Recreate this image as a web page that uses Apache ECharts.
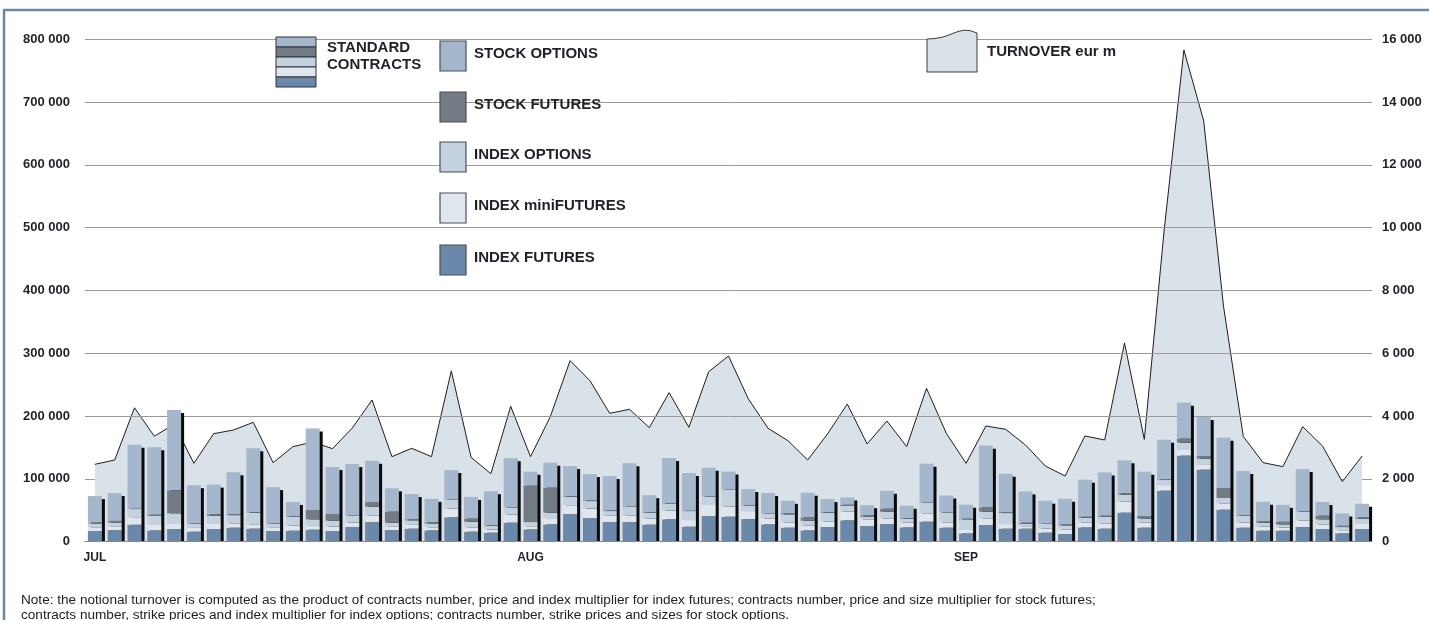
<!DOCTYPE html>
<html lang="en" style="height: 100%">
<head>
  <meta charset="utf-8">
</head>
<body style="height: 100%; margin: 0">
  <div id="container" style="width: 1429px; height: 620px"></div>

  <script type="text/javascript" src="https://cdn.jsdelivr.net/npm/echarts@6/dist/echarts.min.js"></script>
  <script type="text/javascript">
    // trading days per month
    var months = ['JUL', 'AUG', 'SEP'];
    var tradingDays = [22, 22, 21];

    // standard contracts, one value per trading day
    var indexFutures = [17000, 18600, 27000, 18000, 20200, 15900, 20200, 22300, 20700, 17000, 17500, 19100, 17000, 23400, 31300, 18600, 20700,
      18000, 38800, 15900, 14300, 30300, 19600, 27600, 44100, 37700, 31300, 31300, 27100, 35600, 23900, 40900, 39800,
      36100, 27600, 22300, 18000, 23400, 34000, 25000, 28100, 22800, 31900, 22300, 13300, 26600, 20700, 20700, 14300, 12200,
      22800, 20700, 46200, 22300, 81200, 137000, 114700, 51000, 22300, 17500, 17500, 23400, 20200, 13300, 20200];
    var indexMiniFutures = [6000, 6000, 12000, 10000, 8000, 6000, 8000, 7000, 7000, 5000, 8000, 6000, 7000, 7000, 10000, 5000, 6000,
      5000, 14000, 7000, 5000, 13000, 5000, 10000, 14000, 15000, 10000, 10000, 10000, 14000, 10600, 17500, 15900,
      12700, 9600, 8500, 7400, 9000, 13800, 10600, 9000, 7400, 13300, 8500, 5300, 10600, 7400, 4000, 6400, 7400,
      7400, 8500, 17500, 8000, 9000, 9000, 7500, 10100, 8000, 6400, 5000, 10100, 7400, 5000, 8000];
    var indexOptions = [6000, 6000, 13000, 13000, 17000, 7000, 13000, 13000, 18500, 7000, 14000, 10500, 9500, 11600, 14400, 6700, 7300,
      6000, 13600, 9000, 6000, 11200, 6700, 8600, 13600, 12000, 7500, 14000, 9000, 11000, 14300, 13300, 27600,
      8500, 8000, 12700, 8000, 13800, 9000, 4200, 10600, 6400, 17500, 15400, 17000, 10600, 17500, 4000, 8500, 6400,
      8000, 10600, 11200, 6400, 8000, 11700, 10000, 8500, 10600, 6400, 5000, 14300, 8000, 5000, 8500];
    var stockFutures = [1500, 2500, 500, 2000, 36600, 500, 2500, 1500, 500, 500, 1000, 14900, 10600, 500, 7400, 17500, 1600,
      2000, 500, 4800, 1000, 300, 57900, 39800, 1000, 1000, 1000, 500, 1000, 500, 500, 300, 300,
      500, 500, 2000, 5300, 1000, 2000, 2000, 4800, 1000, 500, 300, 1000, 6900, 1500, 1500, 500, 1500,
      1500, 1500, 2000, 4200, 1000, 6400, 4200, 15900, 1000, 2500, 4200, 500, 5800, 2000, 2000];
    var stockOptions = [42200, 44400, 102000, 107400, 127900, 60600, 47200, 66900, 102000, 57400, 22800, 129600, 74900, 81200, 65800, 37200, 40300,
      37200, 47200, 34600, 54100, 78100, 22300, 39800, 47800, 42000, 54700, 69100, 27000, 72200, 60000, 45700, 28100,
      26100, 31900, 19600, 39300, 20700, 11700, 16400, 28600, 19600, 61000, 27100, 22300, 98200, 61000, 49900, 35600, 40900,
      59000, 69000, 52600, 70600, 63200, 57300, 62100, 80200, 70600, 30800, 27000, 67400, 21800, 19600, 21700];

    // notional turnover, eur m
    var turnover = [2465, 2602, 4265, 3360, 3740, 2497, 3440, 3558, 3802, 2517, 3026, 3175, 2962, 3621, 4513, 2708, 2974,
      2708, 5440, 2687, 2165, 4312, 2708, 3983, 5767, 5129, 4089, 4216, 3632, 4747, 3643, 5416, 5915,
      4550, 3611, 3218, 2602, 3430, 4386, 3112, 3844, 3027, 4885, 3452, 2496, 3685, 3579, 3080, 2411, 2092,
      3367, 3239, 6330, 3260, 9900, 15660, 13400, 7500, 3350, 2517, 2390, 3664, 3048, 1912, 2729];

    var noteLines = [
      'Note: the notional turnover is computed as the product of contracts number, price and index multiplier for index futures; contracts number, price and size multiplier for stock futures;',
      'contracts number, strike prices and index multiplier for index options; contracts number, strike prices and sizes for stock options.'
    ];

    var colors = {
      indexFutures: '#6a88aa',
      miniFutures: '#e0e6ed',
      indexOptions: '#c4d1de',
      stockFutures: '#737b84',
      stockOptions: '#a5b7cc',
      area: '#d9e1e9',
      frame: '#6a89a9'
    };

    var days = [];
    months.forEach(function (m, i) {
      for (var d = 1; d <= tradingDays[i]; d++) days.push(m + '-' + d);
    });
    var totals = days.map(function (d, i) {
      return [i, indexFutures[i] + indexMiniFutures[i] + indexOptions[i] + stockFutures[i] + stockOptions[i]];
    });

    function isMonthStart(index, value) {
      return /-1$/.test(value);
    }
    function spaced(v) {
      return String(v).replace(/\B(?=(\d{3})+(?!\d))/g, ' ');
    }

    var FONT = '"Liberation Sans", Arial, sans-serif';
    var BAR_W = 14;

    function barSeries(name, data, color) {
      return {
        name: name,
        type: 'bar',
        stack: 'contracts',
        barWidth: BAR_W,
        z: 4,
        data: data,
        itemStyle: { color: color },
        emphasis: { disabled: true }
      };
    }

    function legendBox(y, color, label) {
      return [
        { type: 'rect', shape: { x: 440, y: y, width: 26, height: 30 },
          style: { fill: color, stroke: '#4a4f55', lineWidth: 1.2 }, z: 10 },
        { type: 'text', style: { text: label, x: 474, y: y + 13, font: 'bold 15px ' + FONT, fill: '#1e2228', verticalAlign: 'middle' }, z: 10 }
      ];
    }

    var stripeColors = [colors.stockOptions, colors.stockFutures, colors.indexOptions, colors.miniFutures, colors.indexFutures];
    var graphics = [
      { type: 'line', shape: { x1: 3, y1: 10, x2: 1429, y2: 10 }, style: { stroke: colors.frame, lineWidth: 2.5 }, z: 10 },
      { type: 'line', shape: { x1: 4, y1: 10, x2: 4, y2: 620 }, style: { stroke: colors.frame, lineWidth: 2.5 }, z: 10 },
      { type: 'text', style: { text: 'STANDARD\nCONTRACTS', x: 327, y: 39, font: 'bold 15px ' + FONT, fill: '#1e2228', lineHeight: 17 }, z: 10 },
      { type: 'polygon',
        shape: { points: [[927, 72], [927, 39], [935, 38.5], [943, 37], [950, 34.5], [958, 31.5], [964, 30.2], [970, 30.6], [977, 33], [977, 72]] },
        style: { fill: colors.area, stroke: '#3a3e44', lineWidth: 1 }, z: 10 },
      { type: 'text', style: { text: 'TURNOVER eur m', x: 987, y: 52, font: 'bold 15px ' + FONT, fill: '#1e2228', verticalAlign: 'middle' }, z: 10 },
      { type: 'text', x: 21, y: 593, scaleX: 1.087,
        style: { text: noteLines.join('\n'), x: 0, y: 0, font: '12.5px ' + FONT, fill: '#222', lineHeight: 15 }, z: 10 }
    ];
    stripeColors.forEach(function (c, i) {
      graphics.push({ type: 'rect', shape: { x: 276, y: 37 + i * 10, width: 40, height: 10 },
        style: { fill: c, stroke: '#2f3338', lineWidth: 1 }, z: 10 });
    });
    graphics = graphics
      .concat(legendBox(41, colors.stockOptions, 'STOCK OPTIONS'))
      .concat(legendBox(92, colors.stockFutures, 'STOCK FUTURES'))
      .concat(legendBox(142, colors.indexOptions, 'INDEX OPTIONS'))
      .concat(legendBox(193, colors.miniFutures, 'INDEX miniFUTURES'))
      .concat(legendBox(245, colors.indexFutures, 'INDEX FUTURES'));

    var gridColors = [];
    for (var k = 0; k <= 8; k++) gridColors.push(k === 1 ? 'rgba(0,0,0,0)' : '#9a9a9a');

    var dom = document.getElementById('container');
    var myChart = echarts.init(dom, null, { renderer: 'canvas' });

    var option = {
      animation: false,
      backgroundColor: '#fff',
      textStyle: { fontFamily: FONT },
      grid: { left: 85, right: 57, top: 39.3, bottom: 78.3 },
      xAxis: {
        type: 'category',
        data: days,
        z: 5,
        axisLine: { lineStyle: { color: '#8a8a8a', width: 1 } },
        axisTick: { interval: isMonthStart, length: 4, lineStyle: { color: '#8a8a8a' } },
        axisLabel: {
          interval: isMonthStart,
          formatter: function (v) { return v.split('-')[0]; },
          margin: 10,
          fontSize: 12,
          fontWeight: 'bold',
          color: '#1e2228'
        },
        splitLine: { show: false }
      },
      yAxis: [
        {
          type: 'value',
          min: 0, max: 800000, interval: 100000,
          z: 2,
          axisLine: { show: false },
          axisTick: { show: false },
          axisLabel: { formatter: spaced, margin: 15, fontSize: 13, fontWeight: 'bold', color: '#1e2228' },
          splitLine: { lineStyle: { color: gridColors, width: 1 } }
        },
        {
          type: 'value',
          min: 0, max: 16000, interval: 2000,
          z: 0,
          axisLine: { show: false },
          axisTick: { show: false },
          axisLabel: { formatter: spaced, margin: 10, fontSize: 13, fontWeight: 'bold', color: '#1e2228' },
          splitLine: { show: true, lineStyle: { color: '#9a9a9a', width: 1 } }
        }
      ],
      graphic: graphics,
      series: [
        {
          name: 'TURNOVER eur m',
          type: 'line',
          yAxisIndex: 1,
          z: 1,
          symbol: 'none',
          data: turnover,
          lineStyle: { color: '#1e1e1e', width: 1 },
          areaStyle: { color: colors.area, opacity: 1 },
          emphasis: { disabled: true }
        },
        {
          name: 'shadow',
          type: 'custom',
          z: 3,
          data: totals,
          encode: { x: 0, y: 1 },
          renderItem: function (params, api) {
            var top = api.coord([api.value(0), api.value(1)]);
            var base = api.coord([api.value(0), 0]);
            return {
              type: 'rect',
              shape: { x: top[0] - BAR_W / 2 + 3, y: top[1] + 3, width: BAR_W, height: base[1] - top[1] - 3 },
              style: { fill: '#0a0a0a' }
            };
          }
        },
        barSeries('INDEX FUTURES', indexFutures, colors.indexFutures),
        barSeries('INDEX miniFUTURES', indexMiniFutures, colors.miniFutures),
        barSeries('INDEX OPTIONS', indexOptions, colors.indexOptions),
        barSeries('STOCK FUTURES', stockFutures, colors.stockFutures),
        barSeries('STOCK OPTIONS', stockOptions, colors.stockOptions)
      ]
    };

    myChart.setOption(option);
    window.addEventListener('resize', myChart.resize);
  </script>
</body>
</html>
